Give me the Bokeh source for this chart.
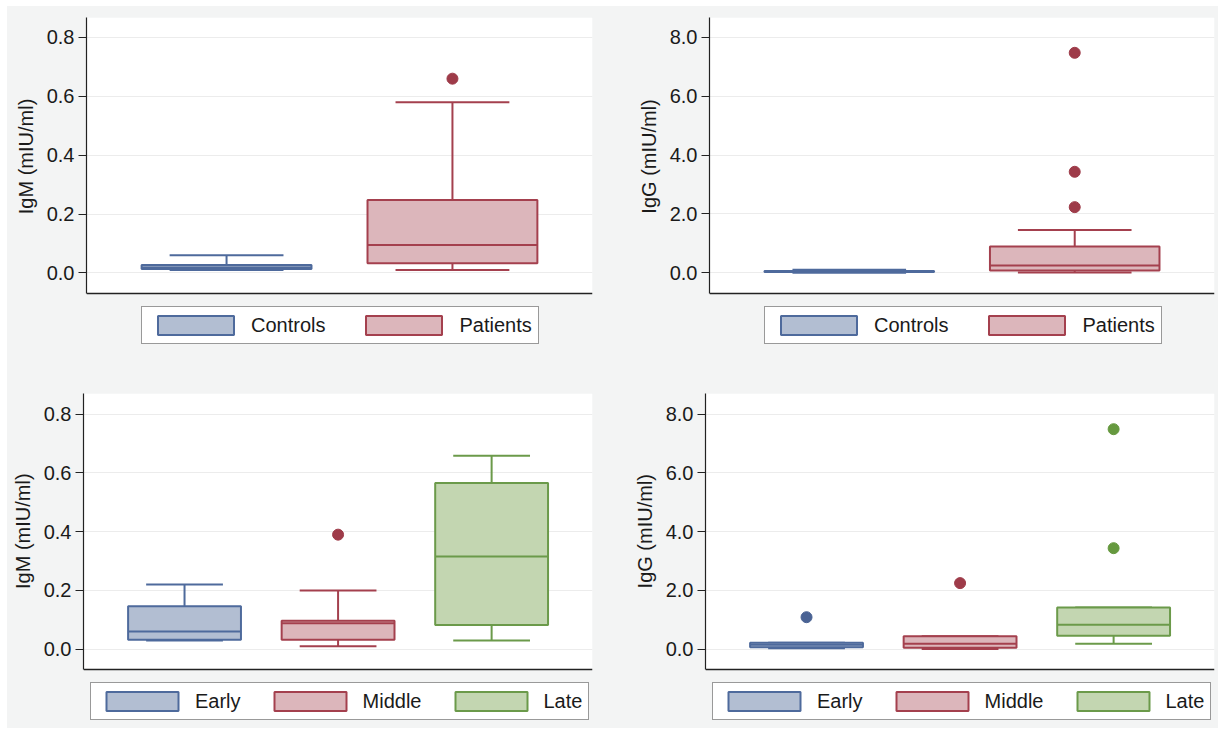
from bokeh.plotting import figure
from bokeh.models import (ColumnDataSource, Range1d, FixedTicker, NumeralTickFormatter,
                          Legend, LegendItem, Span, BoxAnnotation, Spacer)
from bokeh.transform import dodge
from bokeh.layouts import column, row
from bokeh.embed import file_html
from bokeh.resources import INLINE

FONT = "Liberation Sans"
BG = "#f3f4f4"
TXT = "#1a1a1a"

# ---------------- data ----------------
# Panel A: IgM, Controls vs Patients
a_groups = ["Controls", "Patients"]
a_min = [0.010, 0.010]
a_q1 = [0.013, 0.033]
a_med = [0.018, 0.095]
a_q3 = [0.027, 0.248]
a_max = [0.060, 0.580]
a_out_group = ["Patients"]
a_out_value = [0.66]

# Panel B: IgG, Controls vs Patients
b_groups = ["Controls", "Patients"]
b_min = [0.00, 0.01]
b_q1 = [0.03, 0.08]
b_med = [0.045, 0.25]
b_q3 = [0.06, 0.89]
b_max = [0.10, 1.45]
b_out_group = ["Patients", "Patients", "Patients"]
b_out_value = [2.23, 3.43, 7.47]

# Panel C: IgM by stage
c_groups = ["Early", "Middle", "Late"]
c_min = [0.030, 0.010, 0.030]
c_q1 = [0.032, 0.032, 0.082]
c_med = [0.060, 0.088, 0.316]
c_q3 = [0.146, 0.097, 0.566]
c_max = [0.220, 0.200, 0.659]
c_out_group = ["Middle"]
c_out_value = [0.39]

# Panel D: IgG by stage
d_groups = ["Early", "Middle", "Late"]
d_min = [0.03, 0.01, 0.19]
d_q1 = [0.07, 0.05, 0.456]
d_med = [0.15, 0.19, 0.83]
d_q3 = [0.22, 0.44, 1.42]
d_max = [0.22, 0.44, 1.42]
d_out_group = ["Early", "Middle", "Late", "Late"]
d_out_value = [1.09, 2.25, 3.44, 7.49]

igm_ticks = [0.0, 0.2, 0.4, 0.6, 0.8]
igg_ticks = [0.0, 2.0, 4.0, 6.0, 8.0]
igm_label = "IgM (mIU/ml)"
igg_label = "IgG (mIU/ml)"

LINE = ["#4e6a9c", "#a4404e", "#6b9a4a"]
FILL = ["#b2bed2", "#dcb6bb", "#c3d6b1"]
DOT = ["#4a6394", "#9e3b49", "#66993f"]


def panel(groups, mins, q1, med, q3, maxs, og, ov, ylabel, lab_pad, ticks, yr, axis_y,
          xr, box_w, cap_w, width, height, bl, br, bt, bb, lg_glyph_w, lg_spacing, lg_loc):
    n = len(groups)
    p = figure(width=width, height=height, output_backend="svg", toolbar_location=None,
               x_range=Range1d(*xr), y_range=Range1d(*yr),
               min_border_left=bl, min_border_right=br, min_border_top=bt,
               min_border_bottom=bb)
    p.border_fill_color = BG
    p.background_fill_color = BG
    p.outline_line_color = None

    # white plot region above the (bottom) axis line
    p.add_layout(BoxAnnotation(bottom=axis_y, fill_color="white", fill_alpha=1.0,
                               line_color=None, level="image"))

    xs = list(range(1, n + 1))
    src = ColumnDataSource(dict(x=xs, lo=mins, q1=q1, med=med, q3=q3, hi=maxs,
                                line=LINE[:n], fill=FILL[:n]))
    p.segment(x0="x", y0="q3", x1="x", y1="hi", line_color="line", line_width=2, source=src)
    p.segment(x0="x", y0="q1", x1="x", y1="lo", line_color="line", line_width=2, source=src)
    p.segment(x0=dodge("x", -cap_w / 2), y0="hi", x1=dodge("x", cap_w / 2), y1="hi",
              line_color="line", line_width=2, source=src)
    p.segment(x0=dodge("x", -cap_w / 2), y0="lo", x1=dodge("x", cap_w / 2), y1="lo",
              line_color="line", line_width=2, source=src)
    box = p.vbar(x="x", width=box_w, bottom="q1", top="q3", fill_color="fill",
                 line_color="line", line_width=2, source=src)
    p.segment(x0=dodge("x", -box_w / 2), y0="med", x1=dodge("x", box_w / 2), y1="med",
              line_color="line", line_width=2, source=src)

    ox = [groups.index(g) + 1 for g in og]
    oc = [DOT[groups.index(g)] for g in og]
    osrc = ColumnDataSource(dict(x=ox, y=ov, c=oc))
    p.scatter(x="x", y="y", size=11, fill_color="c", line_color="c", source=osrc)

    # bottom axis line (no ticks / labels in the reference)
    p.xaxis.visible = False
    p.add_layout(Span(location=axis_y, dimension="width", line_color="#222222",
                      line_width=1.5))

    ya = p.yaxis[0]
    ya.bounds = (axis_y, yr[1])
    ya.ticker = FixedTicker(ticks=ticks)
    ya.formatter = NumeralTickFormatter(format="0.0")
    ya.major_tick_out = 8
    ya.major_tick_in = 0
    ya.minor_tick_out = 0
    ya.minor_tick_in = 0
    ya.axis_line_color = "#222222"
    ya.major_tick_line_color = "#222222"
    ya.axis_line_width = 1.2
    ya.major_label_text_font = FONT
    ya.major_label_text_font_size = "20px"
    ya.major_label_text_color = TXT
    ya.major_label_standoff = 4
    # leading no-break spaces centre the label on the plot region above the axis line
    ya.axis_label = "\u00a0" * lab_pad + ylabel
    ya.axis_label_text_font = FONT
    ya.axis_label_text_font_size = "20px"
    ya.axis_label_text_font_style = "normal"
    ya.axis_label_text_color = TXT
    ya.axis_label_standoff = 7

    p.xgrid.visible = False
    p.ygrid.ticker = FixedTicker(ticks=ticks)
    p.ygrid.grid_line_color = "#ececec"
    p.ygrid.grid_line_width = 1

    items = [LegendItem(label=g, renderers=[box], index=i) for i, g in enumerate(groups)]
    leg = Legend(items=items, orientation="horizontal", location=lg_loc,
                 glyph_width=lg_glyph_w, glyph_height=24, label_standoff=8,
                 label_height=23, spacing=lg_spacing, padding=6, margin=0,
                 border_line_color="#333333", border_line_width=1.5,
                 background_fill_color="white", background_fill_alpha=1.0,
                 label_text_font=FONT, label_text_font_size="20px",
                 label_text_color=TXT)
    p.add_layout(leg, "center")
    return p


pa = panel(a_groups, a_min, a_q1, a_med, a_q3, a_max, a_out_group, a_out_value,
           igm_label, 11, igm_ticks, (-0.2842, 0.8679), -0.0703, (0.38, 2.62),
           0.752, 0.504, 601, 360, 79, 16, 11, 10, 95, 31, (55, 12))
pb = panel(b_groups, b_min, b_q1, b_med, b_q3, b_max, b_out_group, b_out_value,
           igg_label, 11, igg_ticks, (-2.842, 8.669), -0.703, (0.38, 2.62),
           0.752, 0.504, 610, 360, 101, 4, 11, 10, 95, 31, (55, 12))
pc = panel(c_groups, c_min, c_q1, c_med, c_q3, c_max, c_out_group, c_out_value,
           igm_label, 10, igm_ticks, (-0.2563, 0.8705), -0.0691, (0.342, 3.657),
           0.735, 0.50, 601, 362, 76, 16, 27, 4, 90, 24, (7, 4))
pd_ = panel(d_groups, d_min, d_q1, d_med, d_q3, d_max, d_out_group, d_out_value,
            igg_label, 10, igg_ticks, (-2.563, 8.705), -0.691, (0.342, 3.657),
            0.735, 0.50, 610, 362, 97, 4, 27, 4, 90, 24, (7, 4))

grid = column(row(pa, pb, styles={"background-color": BG}),
              row(pc, pd_, styles={"background-color": BG}),
              styles={"background-color": BG})
layout = column(Spacer(height=6), row(Spacer(width=7), grid))
open("out.html", "w").write(file_html(layout, INLINE))
